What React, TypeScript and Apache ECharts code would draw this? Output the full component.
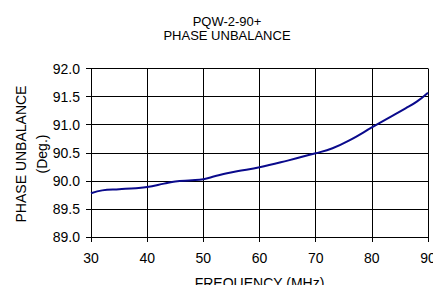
import React, { useEffect, useRef } from "react";
import * as echarts from "echarts";

const freqMHz = [30, 32, 35, 38, 40, 43, 45, 48, 50, 52, 54, 56, 60, 65, 70, 73, 76, 80, 83, 86, 88, 90];
const phaseDeg = [89.78, 89.83, 89.85, 89.87, 89.89, 89.95, 89.99, 90.01, 90.03, 90.08, 90.13, 90.17, 90.24, 90.36, 90.49, 90.58, 90.72, 90.95, 91.12, 91.29, 91.41, 91.57];
const titleLines = ["PQW-2-90+", "PHASE UNBALANCE"];
const xAxisName = "FREQUENCY (MHz)";
const yAxisName = ["PHASE UNBALANCE", "(Deg.)"];

export default function App() {
  const ref = useRef<HTMLDivElement>(null);
  useEffect(() => {
    document.body.style.margin = "0";
    const chart = echarts.init(ref.current!, null, { renderer: "svg" });
    const font = "Liberation Sans, Arial, sans-serif";
    chart.setOption({
      animation: false,
      backgroundColor: "#ffffff",
      graphic: [
        {
          type: "text",
          x: 227,
          y: 15,
          style: {
            text: titleLines.join("\n"),
            fontFamily: font,
            fontSize: 13,
            lineHeight: 13.5,
            fill: "#000",
            align: "center",
            verticalAlign: "top",
          },
        },
        {
          type: "text",
          x: 31,
          y: 154,
          rotation: Math.PI / 2,
          style: {
            text: yAxisName.join("\n"),
            fontFamily: font,
            fontSize: 14,
            lineHeight: 21,
            fill: "#000",
            align: "center",
            verticalAlign: "middle",
          },
        },
      ],
      grid: {
        left: 91,
        right: 5,
        top: 68.5,
        bottom: 48,
        containLabel: false,
        outerBoundsMode: "none",
      },
      xAxis: {
        type: "value",
        min: 30,
        max: 90,
        interval: 10,
        name: xAxisName,
        nameLocation: "middle",
        nameGap: 39,
        nameTextStyle: { fontFamily: font, fontSize: 14, color: "#000", verticalAlign: "top" },
        axisLine: { lineStyle: { color: "#000", width: 1 } },
        axisTick: { show: true, length: 5, lineStyle: { color: "#000" } },
        axisLabel: { fontFamily: font, fontSize: 14, color: "#000", margin: 13.5, hideOverlap: false },
        splitLine: { show: true, lineStyle: { color: "#000", width: 1 } },
      },
      yAxis: {
        type: "value",
        min: 89,
        max: 92,
        interval: 0.5,
        axisLine: { show: true, lineStyle: { color: "#000", width: 1 } },
        axisTick: { show: true, length: 5, lineStyle: { color: "#000" } },
        axisLabel: {
          fontFamily: font,
          fontSize: 14,
          color: "#000",
          margin: 11,
          formatter: (v: number) => v.toFixed(1),
        },
        splitLine: { show: true, lineStyle: { color: "#000", width: 1 } },
      },
      series: [
        {
          type: "line",
          data: freqMHz.map((f, i) => [f, phaseDeg[i]]),
          smooth: 0.4,
          showSymbol: false,
          lineStyle: { color: "#0a0a8c", width: 2 },
        },
      ],
    });
    return () => chart.dispose();
  }, []);
  return <div ref={ref} style={{ width: 433, height: 285 }} />;
}
